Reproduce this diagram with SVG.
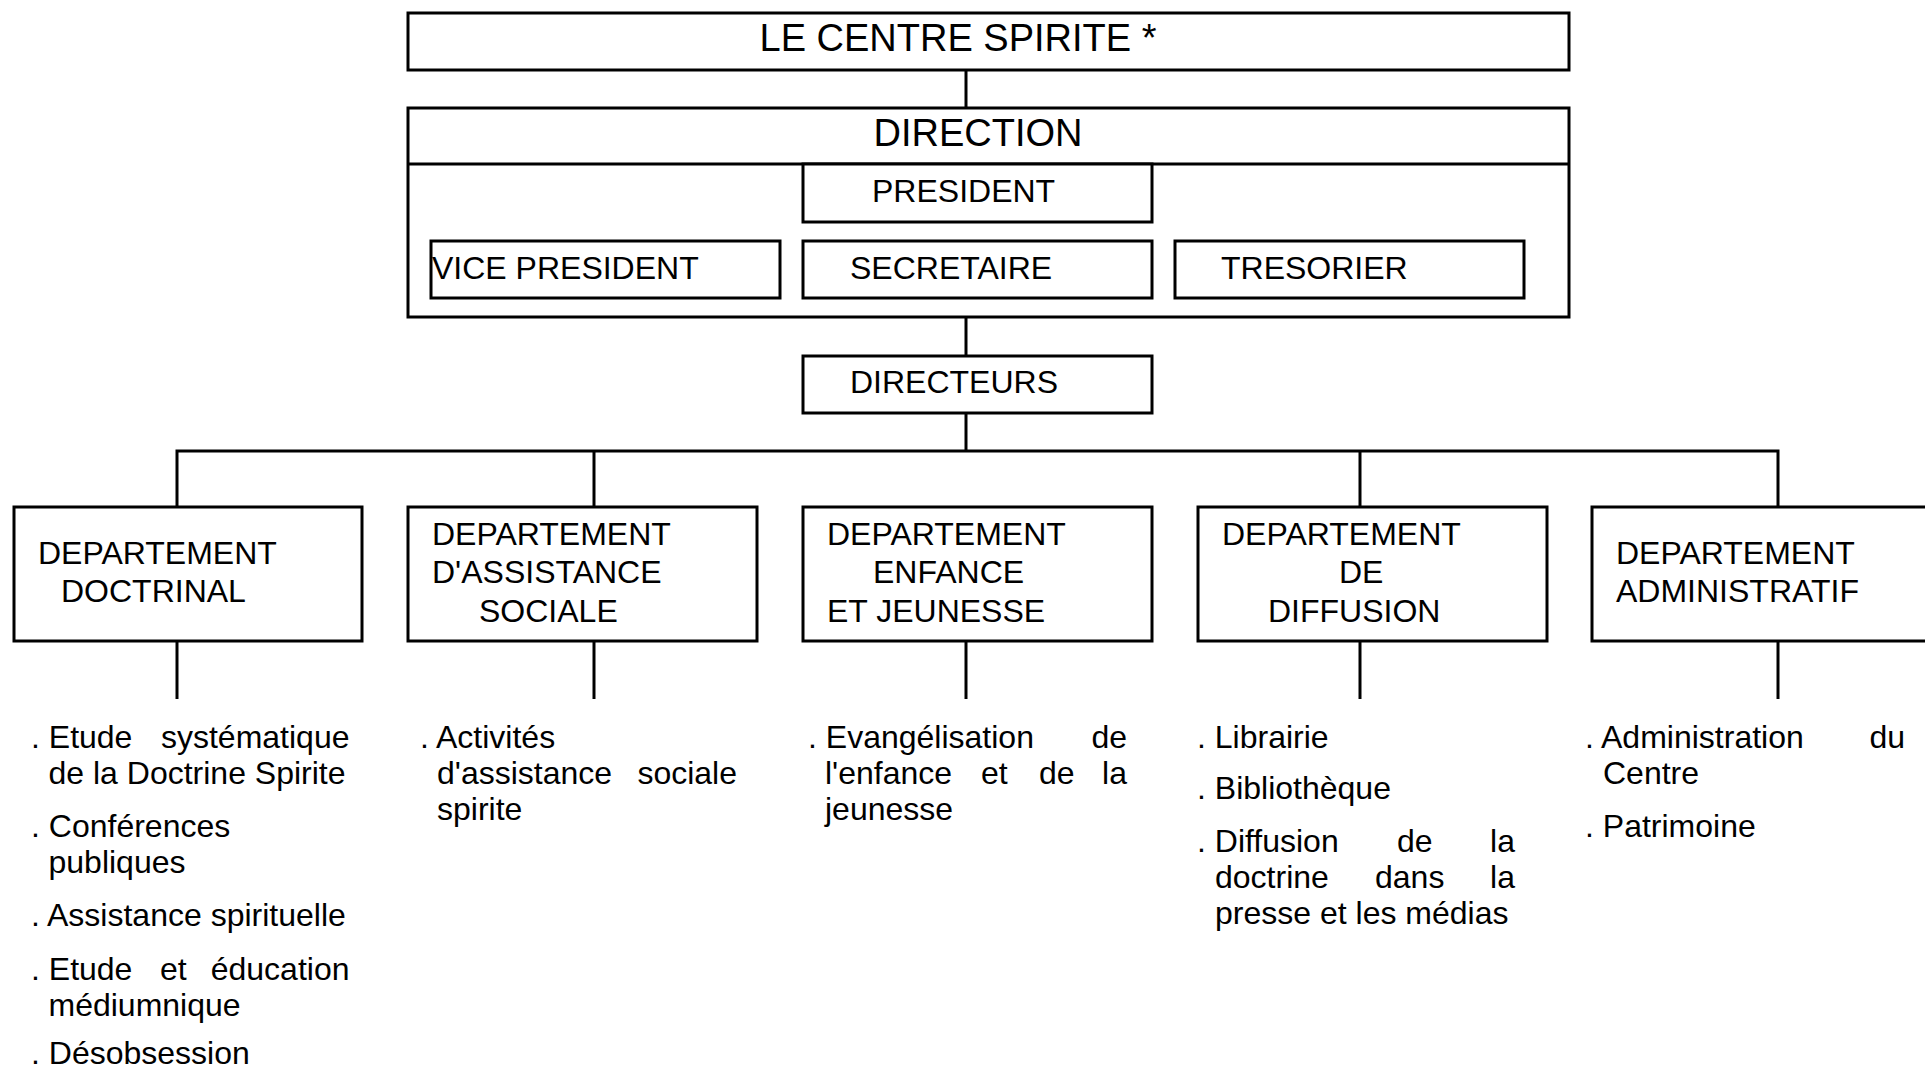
<svg xmlns="http://www.w3.org/2000/svg" width="1925" height="1071" viewBox="0 0 1925 1071">
<style>
.box{fill:#fff;stroke:#000;stroke-width:3}
.ln{stroke:#000;stroke-width:3;fill:none}
text{font-family:"Liberation Sans",Arial,sans-serif;fill:#000}
.big{font-size:38px}
.lbl{font-size:32px}
.item{font-size:32px}
</style>
<rect width="1925" height="1071" fill="#fff"/>
<g id="connectors">
<line class="ln" x1="966" y1="70" x2="966" y2="108"/>
<line class="ln" x1="966" y1="317" x2="966" y2="356"/>
<line class="ln" x1="966" y1="413" x2="966" y2="451"/>
<polyline class="ln" points="177,507 177,451 1778,451 1778,507"/>
<line class="ln" x1="594" y1="451" x2="594" y2="507"/>
<line class="ln" x1="1360" y1="451" x2="1360" y2="507"/>
<line class="ln" x1="177" y1="641" x2="177" y2="699"/>
<line class="ln" x1="594" y1="641" x2="594" y2="699"/>
<line class="ln" x1="966" y1="641" x2="966" y2="699"/>
<line class="ln" x1="1360" y1="641" x2="1360" y2="699"/>
<line class="ln" x1="1778" y1="641" x2="1778" y2="699"/>
</g>
<g id="centre">
<rect class="box" x="408" y="13" width="1161" height="57"/>
<text class="big" x="958" y="51" text-anchor="middle">LE CENTRE SPIRITE *</text>
</g>
<g id="direction">
<rect class="box" x="408" y="108" width="1161" height="209"/>
<line class="ln" x1="408" y1="164" x2="1569" y2="164"/>
<text class="big" x="978" y="146" text-anchor="middle">DIRECTION</text>
</g>
<g id="president">
<rect class="box" x="803" y="164" width="349" height="58"/>
<text class="lbl" x="872" y="202">PRESIDENT</text>
</g>
<g id="vice-president">
<rect class="box" x="431" y="241" width="349" height="57"/>
<text class="lbl" x="432" y="279">VICE PRESIDENT</text>
</g>
<g id="secretaire">
<rect class="box" x="803" y="241" width="349" height="57"/>
<text class="lbl" x="850" y="279">SECRETAIRE</text>
</g>
<g id="tresorier">
<rect class="box" x="1175" y="241" width="349" height="57"/>
<text class="lbl" x="1221" y="279">TRESORIER</text>
</g>
<g id="directeurs">
<rect class="box" x="803" y="356" width="349" height="57"/>
<text class="lbl" x="850" y="393">DIRECTEURS</text>
</g>
<g id="dept-doctrinal">
<rect class="box" x="14" y="507" width="348" height="134"/>
<text class="lbl" x="38" y="564">DEPARTEMENT</text>
<text class="lbl" x="61" y="602">DOCTRINAL</text>
</g>
<g id="dept-assistance">
<rect class="box" x="408" y="507" width="349" height="134"/>
<text class="lbl" x="432" y="545">DEPARTEMENT</text>
<text class="lbl" x="432" y="583">D'ASSISTANCE</text>
<text class="lbl" x="479" y="622">SOCIALE</text>
</g>
<g id="dept-enfance">
<rect class="box" x="803" y="507" width="349" height="134"/>
<text class="lbl" x="827" y="545">DEPARTEMENT</text>
<text class="lbl" x="873" y="583">ENFANCE</text>
<text class="lbl" x="827" y="622">ET JEUNESSE</text>
</g>
<g id="dept-diffusion">
<rect class="box" x="1198" y="507" width="349" height="134"/>
<text class="lbl" x="1222" y="545">DEPARTEMENT</text>
<text class="lbl" x="1339" y="583">DE</text>
<text class="lbl" x="1268" y="622">DIFFUSION</text>
</g>
<g id="dept-administratif">
<rect class="box" x="1592" y="507" width="349" height="134"/>
<text class="lbl" x="1616" y="564">DEPARTEMENT</text>
<text class="lbl" x="1616" y="602">ADMINISTRATIF</text>
</g>
<g id="list-doctrinal">
<text class="item" x="31" y="748">. Etude</text>
<text class="item" x="349.5" y="748" text-anchor="end">systématique</text>
<text class="item" x="48.5" y="784">de la Doctrine Spirite</text>
<text class="item" x="31" y="837">. Conférences</text>
<text class="item" x="48.5" y="873">publiques</text>
<text class="item" x="31" y="926">. Assistance spirituelle</text>
<text class="item" x="31" y="980">. Etude</text>
<text class="item" x="160" y="980">et</text>
<text class="item" x="349.5" y="980" text-anchor="end">éducation</text>
<text class="item" x="48.5" y="1016">médiumnique</text>
<text class="item" x="31" y="1064">. Désobsession</text>
</g>
<g id="list-assistance">
<text class="item" x="420" y="748">. Activités</text>
<text class="item" x="437" y="784">d'assistance</text>
<text class="item" x="737" y="784" text-anchor="end">sociale</text>
<text class="item" x="437" y="820">spirite</text>
</g>
<g id="list-enfance">
<text class="item" x="808" y="748">. Evangélisation</text>
<text class="item" x="1127" y="748" text-anchor="end">de</text>
<text class="item" x="825" y="784">l'enfance</text>
<text class="item" x="981" y="784">et</text>
<text class="item" x="1039" y="784">de</text>
<text class="item" x="1127" y="784" text-anchor="end">la</text>
<text class="item" x="825" y="820">jeunesse</text>
</g>
<g id="list-diffusion">
<text class="item" x="1197" y="748">. Librairie</text>
<text class="item" x="1197" y="799">. Bibliothèque</text>
<text class="item" x="1197" y="852">. Diffusion</text>
<text class="item" x="1397" y="852">de</text>
<text class="item" x="1515" y="852" text-anchor="end">la</text>
<text class="item" x="1215" y="888">doctrine</text>
<text class="item" x="1375" y="888">dans</text>
<text class="item" x="1515" y="888" text-anchor="end">la</text>
<text class="item" x="1215" y="924">presse et les médias</text>
</g>
<g id="list-administratif">
<text class="item" x="1585" y="748">. Administration</text>
<text class="item" x="1905" y="748" text-anchor="end">du</text>
<text class="item" x="1603" y="784">Centre</text>
<text class="item" x="1585" y="837">. Patrimoine</text>
</g>
</svg>
